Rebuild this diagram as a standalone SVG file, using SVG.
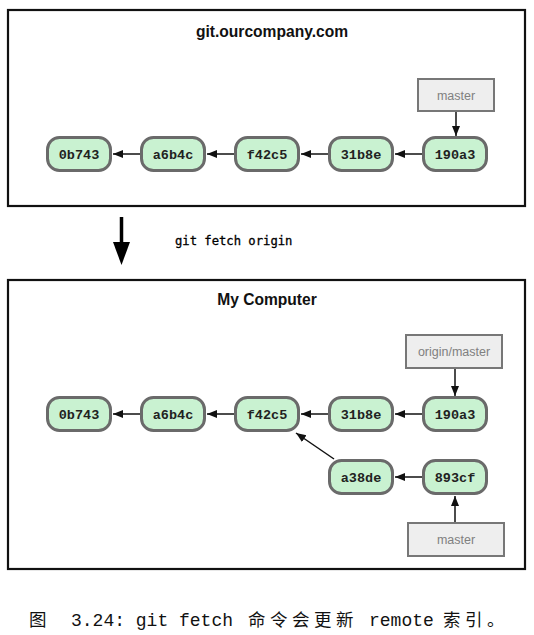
<svg xmlns="http://www.w3.org/2000/svg" width="534" height="635" viewBox="0 0 534 635">
<style>
.frame{fill:#fff;stroke:#111;stroke-width:2.2}
.title{font-family:"Liberation Sans",Arial,sans-serif;font-weight:bold;font-size:15.6px;fill:#111;text-anchor:middle}
.commit rect{fill:#c9f2d1;stroke:#6a6a6a;stroke-width:3}
.commit text{font-family:"Liberation Mono","Courier New",monospace;font-weight:bold;font-size:13.5px;fill:#222;text-anchor:middle}
.ref rect{fill:#eeeeee;stroke:#777;stroke-width:2}
.ref text{font-family:"Liberation Sans",Arial,sans-serif;font-size:12.5px;fill:#808080;text-anchor:middle}
.edge{stroke:#111;stroke-width:1.5;fill:none;marker-end:url(#ah)}
.cmd{font-family:"DejaVu Sans Mono",monospace;font-size:12.2px;fill:#000;stroke:#000;stroke-width:0.3}
.cap{font-family:"Liberation Mono","Courier New",monospace;font-size:18px;fill:#111}
.capcjk{font-family:"Noto Sans CJK SC",sans-serif;font-size:17.5px;fill:#111;letter-spacing:4.5px}
</style>
<defs>
<marker id="ah" markerUnits="userSpaceOnUse" markerWidth="10" markerHeight="10" viewBox="0 0 10 10" refX="10" refY="5" orient="auto">
<path d="M0,1 L10,5 L0,9 Z" fill="#111"/>
</marker>
</defs>

<g id="server">
<rect class="frame" x="8" y="10" width="517" height="196"/>
<text class="title" x="272" y="37">git.ourcompany.com</text>
</g>
<g id="s-0b743" class="commit"><rect x="47.5" y="137.5" width="63" height="33" rx="12"/><text x="79" y="158.5">0b743</text></g>
<g id="s-a6b4c" class="commit"><rect x="141.5" y="137.5" width="63" height="33" rx="12"/><text x="173" y="158.5">a6b4c</text></g>
<g id="s-f42c5" class="commit"><rect x="235.5" y="137.5" width="63" height="33" rx="12"/><text x="267" y="158.5">f42c5</text></g>
<g id="s-31b8e" class="commit"><rect x="329.5" y="137.5" width="63" height="33" rx="12"/><text x="361" y="158.5">31b8e</text></g>
<g id="s-190a3" class="commit"><rect x="423.5" y="137.5" width="63" height="33" rx="12"/><text x="455" y="158.5">190a3</text></g>
<g id="s-master" class="ref"><rect x="418" y="79" width="76" height="32"/><text x="456" y="99.5">master</text></g>

<g id="fetch">
<line x1="121.5" y1="217" x2="121.5" y2="244" stroke="#000" stroke-width="3.5"/>
<polygon points="113,242 130,242 121.5,265" fill="#000"/>
<text class="cmd" x="175" y="245">git fetch origin</text>
</g>

<g id="local">
<rect class="frame" x="8" y="280" width="517" height="289"/>
<text class="title" x="267" y="305">My Computer</text>
</g>
<g id="l-0b743" class="commit"><rect x="47.5" y="397.5" width="63" height="33" rx="12"/><text x="79" y="418.5">0b743</text></g>
<g id="l-a6b4c" class="commit"><rect x="141.5" y="397.5" width="63" height="33" rx="12"/><text x="173" y="418.5">a6b4c</text></g>
<g id="l-f42c5" class="commit"><rect x="235.5" y="397.5" width="63" height="33" rx="12"/><text x="267" y="418.5">f42c5</text></g>
<g id="l-31b8e" class="commit"><rect x="329.5" y="397.5" width="63" height="33" rx="12"/><text x="361" y="418.5">31b8e</text></g>
<g id="l-190a3" class="commit"><rect x="423.5" y="397.5" width="63" height="33" rx="12"/><text x="455" y="418.5">190a3</text></g>
<g id="l-a38de" class="commit"><rect x="329.5" y="460.5" width="63" height="33" rx="12"/><text x="361" y="481.5">a38de</text></g>
<g id="l-893cf" class="commit"><rect x="423.5" y="460.5" width="63" height="33" rx="12"/><text x="455" y="481.5">893cf</text></g>
<g id="l-origin-master" class="ref"><rect x="406" y="335" width="96" height="33"/><text x="454" y="356">origin/master</text></g>
<g id="l-master" class="ref"><rect x="408" y="523" width="96" height="33"/><text x="456" y="544">master</text></g>

<g id="connectors">
<line class="edge" x1="140" y1="154" x2="113" y2="154"/>
<line class="edge" x1="234" y1="154" x2="207" y2="154"/>
<line class="edge" x1="328" y1="154" x2="301" y2="154"/>
<line class="edge" x1="422" y1="154" x2="395" y2="154"/>
<line class="edge" x1="456" y1="112" x2="456" y2="136"/>
<line class="edge" x1="140" y1="414" x2="113" y2="414"/>
<line class="edge" x1="234" y1="414" x2="207" y2="414"/>
<line class="edge" x1="328" y1="414" x2="301" y2="414"/>
<line class="edge" x1="422" y1="414" x2="395" y2="414"/>
<line class="edge" x1="455" y1="369" x2="455" y2="396"/>
<line class="edge" x1="422" y1="477" x2="395" y2="477"/>
<line class="edge" x1="334" y1="459" x2="296" y2="433"/>
<line class="edge" x1="455" y1="522" x2="455" y2="496"/>
</g>

<g id="caption">
<text class="capcjk" x="29" y="626">图</text>
<text class="cap" x="71" y="626">3.24: git fetch</text>
<text class="capcjk" x="248" y="626">命令会更新</text>
<text class="cap" x="369" y="626">remote</text>
<text class="capcjk" x="443" y="626">索引。</text>
</g>
</svg>
